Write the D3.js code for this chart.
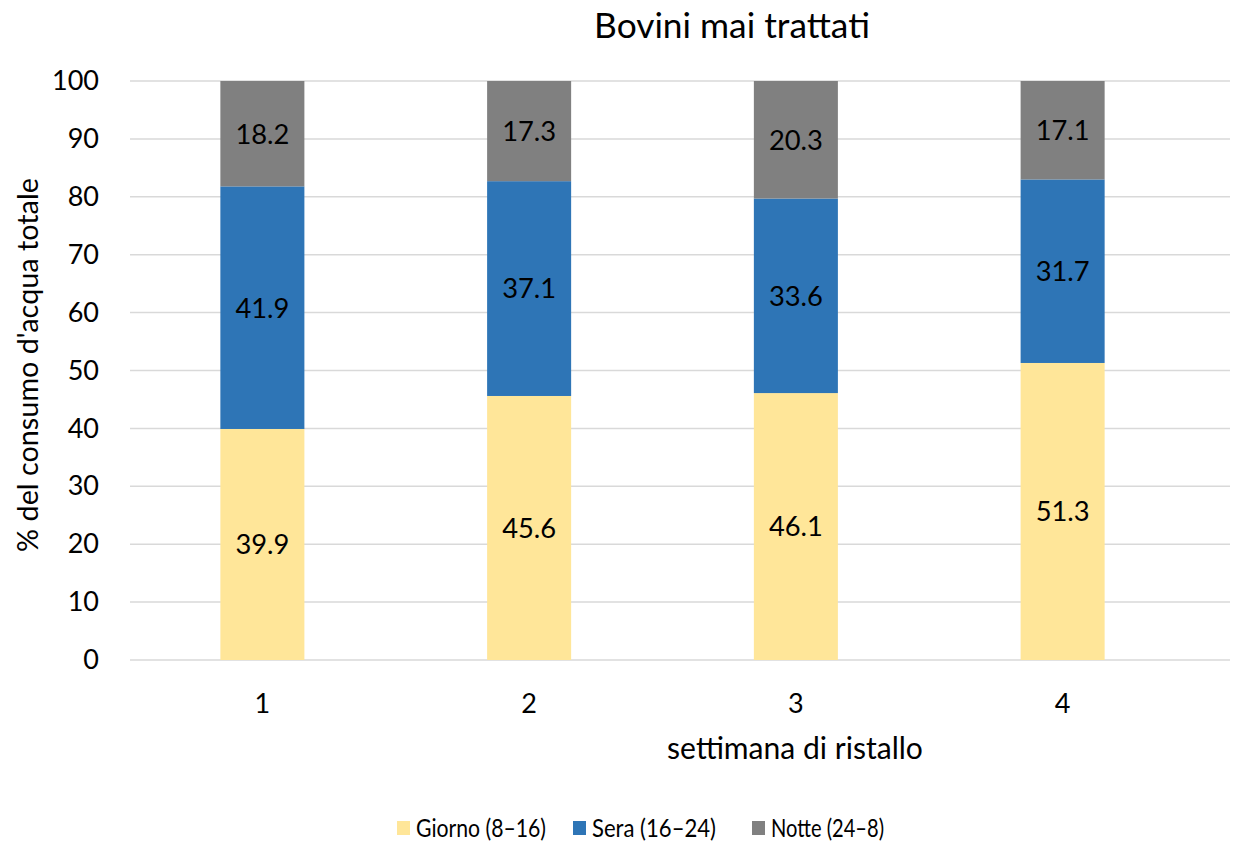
<!DOCTYPE html>
<html><head><meta charset="utf-8">
<script src="https://cdn.jsdelivr.net/npm/d3@7"></script>
<style>body{margin:0;background:#fff;} text{font-family:"Lato",sans-serif;}</style>
</head><body>
<svg id="c" width="1240" height="842"></svg>
<script>
const categories = ["1","2","3","4"];
const seriesNames = ["Giorno (8–16)","Sera (16–24)","Notte (24–8)"];
const giorno = [39.9,45.6,46.1,51.3];
const sera = [41.9,37.1,33.6,31.7];
const notte = [18.2,17.3,20.3,17.1];
const yTicks = [0,10,20,30,40,50,60,70,80,90,100];
const colors = ["#FFE699","#2E75B6","#808080"];

const svg = d3.select("#c");
function fit(sel, target){ const w = sel.node().getComputedTextLength(); const fs = +sel.attr("font-size"); sel.attr("font-size", fs*target/w); return fs*target/w; }

const y = d3.scaleLinear().domain([0,100]).range([660,81]);
const x = d3.scaleBand().domain(categories).range([129,1196]).paddingInner(0.685).paddingOuter(0.3425);

svg.append("g").selectAll("line").data(yTicks).join("line")
  .attr("x1",130).attr("x2",1230).attr("y1",d=>y(d)).attr("y2",d=>y(d))
  .attr("stroke","#D9D9D9").attr("stroke-width",1.5);

const probe = svg.append("text").attr("font-size",20).text("100");
const tickFs = fit(probe,47);
probe.attr("font-size",20).text("18.2");
const labFs = fit(probe,54);
probe.remove();

const yAxis = d3.axisLeft(y).tickValues(yTicks).tickSize(0).tickPadding(0);
const ga = svg.append("g").attr("transform","translate(99,0)").call(yAxis);
ga.select(".domain").remove();
ga.selectAll("text").attr("font-size",tickFs).attr("fill","#000").attr("font-family","Lato");

const table = categories.map((c,i)=>({cat:c, vals:[giorno[i],sera[i],notte[i]]}));
const stack = d3.stack().keys([0,1,2]).value((d,k)=>d.vals[k]);
const series = stack(table);

const gs = svg.append("g").selectAll("g").data(series).join("g").attr("fill",(d,i)=>colors[i]);
gs.selectAll("rect").data(d=>d).join("rect")
  .attr("x",d=>x(d.data.cat)).attr("width",x.bandwidth())
  .attr("y",d=>y(Math.min(d[1],100))).attr("height",d=>y(d[0])-y(Math.min(d[1],100)));

svg.append("g").selectAll("g").data(series).join("g").selectAll("text").data((d,i)=>d.map(v=>({v,k:i}))).join("text")
  .attr("x",d=>x(d.v.data.cat)+x.bandwidth()/2)
  .attr("y",d=>y((d.v[0]+Math.min(d.v[1],100))/2))
  .attr("dy","0.36em").attr("text-anchor","middle").attr("font-size",labFs).attr("fill","#000")
  .text(d=>d.v.data.vals[d.k].toFixed(1));

const xAxis = d3.axisBottom(x).tickSize(0).tickPadding(0);
const gx = svg.append("g").attr("transform","translate(0,703)").call(xAxis);
gx.select(".domain").remove();
gx.selectAll("text").attr("font-size",tickFs).attr("fill","#000").attr("font-family","Lato").attr("dy","0.36em");

const t1 = svg.append("text").attr("x",732).attr("y",25).attr("dy","0.36em").attr("text-anchor","middle")
  .attr("font-size",26).text("Bovini mai trattati");
fit(t1,276);
const t2 = svg.append("text").attr("x",795).attr("y",748).attr("dy","0.36em").attr("text-anchor","middle")
  .attr("font-size",24).text("settimana di ristallo");
fit(t2,256);
const t3 = svg.append("text").attr("transform","translate(28,365) rotate(-90)").attr("dy","0.36em").attr("text-anchor","middle")
  .attr("font-size",24).text("% del consumo d'acqua totale");
fit(t3,374);

const legX = [397,573,752];
const legW = [130,124,113];
const lg = svg.append("g").selectAll("g").data(seriesNames).join("g")
  .attr("transform",(d,i)=>`translate(${legX[i]},828)`);
lg.append("rect").attr("x",0).attr("y",-7).attr("width",13).attr("height",14).attr("fill",(d,i)=>colors[i]);
lg.append("text").attr("x",19).attr("dy","0.36em").attr("font-size",tickFs*0.95)
  .attr("textLength",(d,i)=>legW[i]).attr("lengthAdjust","spacingAndGlyphs").text(d=>d);
</script>
</body></html>
